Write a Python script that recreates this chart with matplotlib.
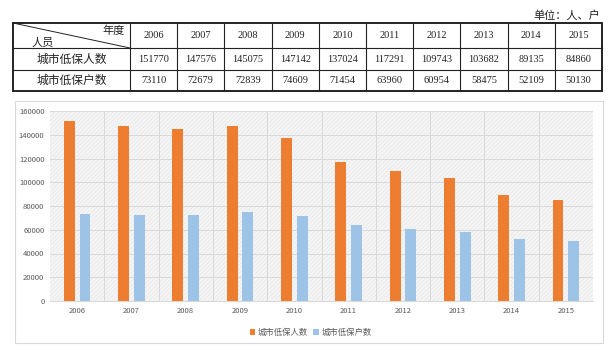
import matplotlib.pyplot as plt
import numpy as np
from matplotlib.patches import Rectangle

plt.rcParams['font.family'] = ['Noto Sans CJK SC', 'DejaVu Sans']
plt.rcParams['hatch.linewidth'] = 0.5

years = ['2006', '2007', '2008', '2009', '2010', '2011', '2012', '2013', '2014', '2015']
persons = [151770, 147576, 145075, 147142, 137024, 117291, 109743, 103682, 89135, 84860]
households = [73110, 72679, 72839, 74609, 71454, 63960, 60954, 58475, 52109, 50130]
row_labels = ['城市低保人数', '城市低保户数']
unit_text = '单位：人、户'

W, H = 609, 350
fig = plt.figure(figsize=(W / 100, H / 100), dpi=100)

# pixel-space overlay for the table and chart frame
bg = fig.add_axes([0, 0, 1, 1])
bg.set_xlim(0, W)
bg.set_ylim(H, 0)
bg.axis('off')

# --- table ---
tx0, tx1 = 13, 602
ty = [23, 48, 70, 91]
col0 = 130
colw = (tx1 - col0) / len(years)
ink = '#222222'
serif = ['Liberation Serif', 'DejaVu Serif']

bg.add_patch(Rectangle((tx0, ty[0]), tx1 - tx0, ty[-1] - ty[0], fill=False,
                       edgecolor=ink, linewidth=1.4))
for y in ty[1:-1]:
    bg.plot([tx0, tx1], [y, y], color=ink, linewidth=0.8)
for i in range(len(years)):
    x = col0 + i * colw
    bg.plot([x, x], [ty[0], ty[-1]], color=ink, linewidth=0.8)
bg.plot([tx0, col0], [ty[0], ty[1]], color=ink, linewidth=0.7)
bg.text(col0 - 5, ty[0] + 8, '年度', ha='right', va='center', fontsize=8, color=ink)
bg.text(tx0 + 19, ty[1] - 5, '人员', ha='left', va='center', fontsize=8, color=ink)
bg.text(tx1 - 2, 15, unit_text, ha='right', va='center', fontsize=8, color=ink)

for i, yr in enumerate(years):
    cx = col0 + (i + 0.5) * colw
    bg.text(cx, (ty[0] + ty[1]) / 2, yr, ha='center', va='center', fontsize=7.5,
            family=serif, color=ink)
    bg.text(cx, (ty[1] + ty[2]) / 2, str(persons[i]), ha='center', va='center',
            fontsize=7.5, family=serif, color=ink)
    bg.text(cx, (ty[2] + ty[3]) / 2, str(households[i]), ha='center', va='center',
            fontsize=7.5, family=serif, color=ink)
for r, lab in enumerate(row_labels):
    bg.text((tx0 + col0) / 2, (ty[r + 1] + ty[r + 2]) / 2, lab, ha='center',
            va='center', fontsize=8.5, color=ink)

# chart frame
bg.add_patch(Rectangle((15, 101), 588, 242, fill=False, edgecolor='#d9d9d9', linewidth=0.8))

# --- bar chart ---
px0, px1, py_top, py_bot = 50, 593, 111, 301
ax = fig.add_axes([px0 / W, (H - py_bot) / H, (px1 - px0) / W, (py_bot - py_top) / H])
ax.set_facecolor('#f5f5f5')
ax.add_patch(Rectangle((0, 0), 1, 1, transform=ax.transAxes, facecolor='none',
                       edgecolor='#e6e6e6', hatch='////////', linewidth=0, zorder=0))

x = np.arange(len(years))
w = 0.2
ax.bar(x - 0.145, persons, w, color='#ED7D31', label=row_labels[0], zorder=3)
ax.bar(x + 0.145, households, w, color='#9DC3E6', label=row_labels[1], zorder=3)

ax.set_xlim(-0.5, len(years) - 0.5)
ax.set_ylim(0, 160000)
ax.set_yticks(np.arange(0, 160001, 20000))
ax.set_xticks(x)
ax.set_xticklabels(years)
ax.tick_params(axis='both', length=0, labelsize=5.5, colors='#595959', pad=4)
for v in np.arange(20000, 160001, 20000):
    ax.axhline(v, color='#d9d9d9', linewidth=0.7, zorder=1)
for b in np.arange(0.5, len(years) - 0.5, 1):
    ax.axvline(b, color='#d9d9d9', linewidth=0.7, zorder=1)
for s in ['top', 'right', 'left']:
    ax.spines[s].set_visible(False)
ax.spines['bottom'].set_color('#d9d9d9')

ax.legend(loc='upper center', bbox_to_anchor=(0.48, -0.1), ncol=2, frameon=False,
          fontsize=6, handlelength=0.7, handleheight=0.7, handletextpad=0.3,
          columnspacing=0.6, labelcolor='#595959')

fig.savefig('out.png', dpi=100)
